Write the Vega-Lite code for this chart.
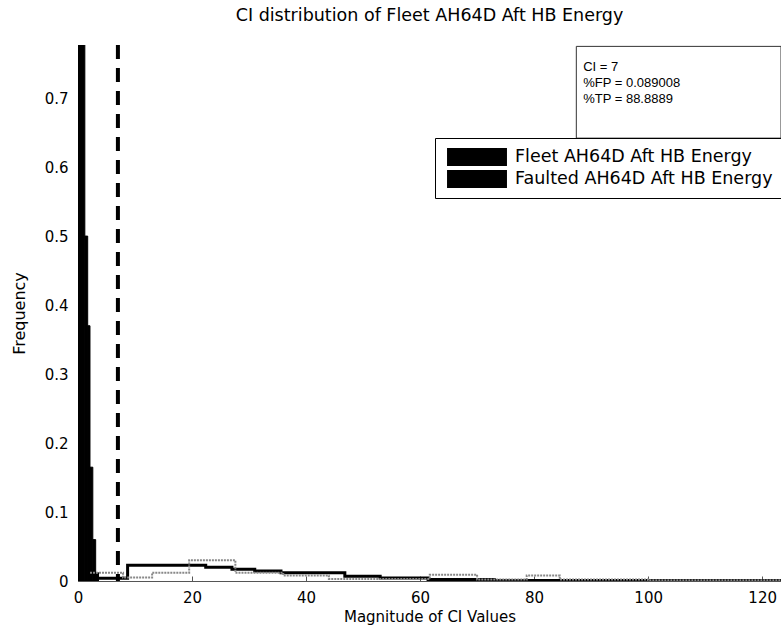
{
  "$schema": "https://vega.github.io/schema/vega-lite/v6.json",
  "autosize": {"type": "none"},
  "width": 703,
  "height": 536,
  "padding": {"left": 78, "top": 45, "right": 0, "bottom": 52},
  "background": "white",
  "title": {"text": "CI distribution of Fleet AH64D Aft HB Energy", "offset": 19, "fontSize": 17.5, "font": "DejaVu Sans", "fontWeight": "normal", "color": "black"},
  "config": {
    "view": {"stroke": null},
    "font": "DejaVu Sans",
    "axis": {"labelFont": "DejaVu Sans", "titleFont": "DejaVu Sans", "labelFontSize": 15, "titleFontSize": 15, "titleFontWeight": "normal", "labelColor": "black", "titleColor": "black", "domainColor": "#555", "tickColor": "#555", "grid": false},
    "legend": {"labelFont": "DejaVu Sans", "labelFontSize": 17.5, "labelColor": "black"}
  },
  "layer": [
    {
      "data": {"values": [
        {"x0": 0, "x1": 1.2, "f": 0.95, "series": "Fleet AH64D Aft HB Energy"},
        {"x0": 1.2, "x1": 1.7, "f": 0.5, "series": "Fleet AH64D Aft HB Energy"},
        {"x0": 1.7, "x1": 2.1, "f": 0.37, "series": "Fleet AH64D Aft HB Energy"},
        {"x0": 2.1, "x1": 2.6, "f": 0.165, "series": "Fleet AH64D Aft HB Energy"},
        {"x0": 2.6, "x1": 3.1, "f": 0.06, "series": "Fleet AH64D Aft HB Energy"},
        {"x0": 3.1, "x1": 3.6, "f": 0.012, "series": "Fleet AH64D Aft HB Energy"}
      ]},
      "mark": {"type": "rect", "clip": true, "stroke": "black", "strokeWidth": 1},
      "encoding": {
        "x": {"field": "x0", "type": "quantitative", "scale": {"domain": [0, 123.3], "nice": false, "zero": false},
          "axis": {"values": [0, 20, 40, 60, 80, 100, 120], "title": "Magnitude of CI Values", "tickSize": -5, "labelPadding": 14, "titlePadding": 4, "labelFlush": false}},
        "x2": {"field": "x1"},
        "y": {"field": "f", "type": "quantitative", "scale": {"domain": [0, 0.777], "nice": false},
          "axis": {"values": [0, 0.1, 0.2, 0.3, 0.4, 0.5, 0.6, 0.7], "title": "Frequency", "titleFontSize": 16, "tickSize": -5, "labelPadding": 15, "titlePadding": 17,
            "labelExpr": "datum.value == 0 ? '0' : format(datum.value, '.1f')"}},
        "y2": {"datum": 0},
        "fill": {"field": "series", "type": "nominal",
          "scale": {"domain": ["Fleet AH64D Aft HB Energy", "Faulted AH64D Aft HB Energy"], "range": ["black", "black"]},
          "legend": {"title": null, "orient": "none", "legendX": 357, "legendY": 93,
            "symbolType": "M-3.33,-1H3.33V1H-3.33Z", "symbolSize": 324, "symbolStrokeWidth": 0,
            "symbolOffset": 23, "labelOffset": 29, "rowPadding": 4, "padding": 10, "labelLimit": 0,
            "strokeColor": "black", "fillColor": "white"}}
      }
    },
    {
      "data": {"values": [
        {"x": 3.6, "f": 0.004}, {"x": 8.7, "f": 0.023}, {"x": 22.4, "f": 0.02}, {"x": 27, "f": 0.017},
        {"x": 31, "f": 0.0145}, {"x": 35.6, "f": 0.012}, {"x": 46.8, "f": 0.007}, {"x": 53, "f": 0.0045},
        {"x": 61.4, "f": 0.002}, {"x": 73, "f": 0.0007}, {"x": 123.3, "f": 0.0007}
      ]},
      "mark": {"type": "line", "interpolate": "step-after", "color": "black", "strokeWidth": 3, "clip": true},
      "encoding": {"x": {"field": "x", "type": "quantitative"}, "y": {"field": "f", "type": "quantitative"}}
    },
    {
      "data": {"values": [
        {"x": 2.1, "f": 0.012}, {"x": 7.9, "f": 0.005}, {"x": 13, "f": 0.012}, {"x": 19.5, "f": 0.03},
        {"x": 27.6, "f": 0.012}, {"x": 36, "f": 0.008}, {"x": 44, "f": 0.003}, {"x": 61.7, "f": 0.009},
        {"x": 70, "f": 0.002}, {"x": 78.7, "f": 0.008}, {"x": 84.5, "f": 0.002}, {"x": 100, "f": 0.001}, {"x": 123.3, "f": 0.001}
      ]},
      "mark": {"type": "line", "interpolate": "step-after", "color": "#888", "strokeWidth": 2, "strokeDash": [2, 1], "clip": true},
      "encoding": {"x": {"field": "x", "type": "quantitative"}, "y": {"field": "f", "type": "quantitative"}}
    },
    {
      "data": {"values": [{"ci": 7}]},
      "mark": {"type": "rule", "color": "black", "strokeWidth": 4, "strokeDash": [14, 9]},
      "encoding": {"x": {"field": "ci", "type": "quantitative"}}
    },
    {
      "data": {"values": [{"xa": 87.4, "xb": 123.3, "ya": 0.642, "yb": 0.775}]},
      "mark": {"type": "rect", "fill": "white", "stroke": "#333", "strokeWidth": 1},
      "encoding": {"x": {"field": "xa", "type": "quantitative"}, "x2": {"field": "xb"}, "y": {"field": "ya", "type": "quantitative"}, "y2": {"field": "yb"}}
    },
    {
      "data": {"values": [
        {"x": 88.6, "f": 0.745, "t": "CI = 7"},
        {"x": 88.6, "f": 0.722, "t": "%FP = 0.089008"},
        {"x": 88.6, "f": 0.699, "t": "%TP = 88.8889"}
      ]},
      "mark": {"type": "text", "align": "left", "baseline": "middle", "fontSize": 13, "font": "Liberation Sans", "color": "black"},
      "encoding": {"x": {"field": "x", "type": "quantitative"}, "y": {"field": "f", "type": "quantitative"}, "text": {"field": "t"}}
    }
  ]
}
